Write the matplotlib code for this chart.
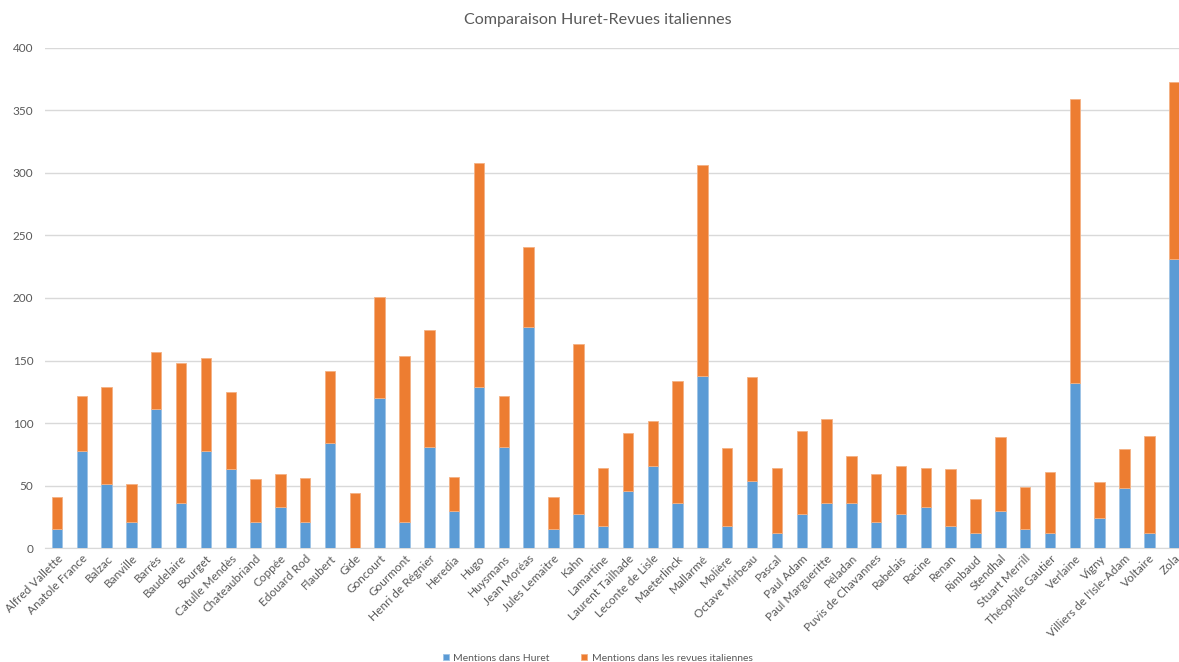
import matplotlib.pyplot as plt
import numpy as np

plt.rcParams['font.family'] = ['Lato', 'DejaVu Sans']

# noms des auteurs
auteurs = ["Alfred Vallette", "Anatole France", "Balzac", "Banville", "Barrès", "Baudelaire",
           "Bourget", "Catulle Mendès", "Chateaubriand", "Coppée", "Edouard Rod", "Flaubert",
           "Gide", "Goncourt", "Gourmont", "Henri de Régnier", "Heredia", "Hugo", "Huysmans",
           "Jean Moréas", "Jules Lemaitre", "Kahn", "Lamartine", "Laurent Tailhade",
           "Leconte de Lisle", "Maeterlinck", "Mallarmé", "Molière", "Octave Mirbeau", "Pascal",
           "Paul Adam", "Paul Margueritte", "Péladan", "Puvis de Chavannes", "Rabelais", "Racine",
           "Renan", "Rimbaud", "Stendhal", "Stuart Merrill", "Théophile Gautier", "Verlaine",
           "Vigny", "Villiers de l'Isle-Adam", "Voltaire", "Zola"]

# mentions dans Huret
huret = [15, 78, 51, 21, 111, 36, 78, 63, 21, 33, 21, 84, 0, 120, 21, 81, 30, 129, 81,
         177, 15, 27, 18, 46, 66, 36, 138, 18, 54, 12, 27, 36, 36, 21, 27, 33, 18, 12, 30,
         15, 12, 132, 24, 48, 12, 231]

# total (Huret + revues)
total = [41, 122, 129, 51, 157, 148, 152, 125, 55, 59, 56, 142, 44, 201, 154, 174, 57, 308,
         122, 241, 41, 163, 64, 92, 102, 134, 306, 80, 137, 64, 94, 103, 74, 59, 66, 64, 63,
         39, 89, 49, 61, 359, 53, 79, 90, 373]

revues = [t - h for t, h in zip(total, huret)]

bleu = '#5B9BD5'
orange = '#ED7D31'
gris = '#595959'

fig = plt.figure(figsize=(11.79, 6.62), dpi=100)
ax = fig.add_axes([0.0378, 0.1722, 0.9686, 0.7553])

x = np.arange(len(auteurs))
ax.bar(x, huret, width=0.42, color=bleu, edgecolor='#9DC3E6', linewidth=0.6,
       label='Mentions dans Huret', zorder=3)
ax.bar(x, revues, width=0.42, bottom=huret, color=orange, edgecolor='#F4B183', linewidth=0.6,
       label='Mentions dans les revues italiennes', zorder=3)

ax.set_xlim(-0.5, len(auteurs) - 0.5)
ax.set_ylim(0, 400)
ax.set_yticks(range(0, 401, 50))
ax.yaxis.grid(True, color='#D9D9D9', linewidth=1, zorder=0)
ax.set_axisbelow(True)
for s in ['top', 'right', 'left']:
    ax.spines[s].set_visible(False)
ax.spines['bottom'].set_color('#D9D9D9')
ax.tick_params(axis='both', length=0, colors=gris, labelsize=8.5)
ax.tick_params(axis='y', pad=8)
ax.set_xticks(x)
ax.set_xticklabels(auteurs, rotation=45, ha='right', rotation_mode='anchor')

fig.suptitle('Comparaison Huret-Revues italiennes', x=0.507, y=0.98, fontsize=11.6,
             color=gris)

leg = fig.legend(loc='lower center', bbox_to_anchor=(0.507, -0.015), ncol=2, frameon=False,
                 fontsize=7.5, handlelength=0.6, handleheight=0.6, columnspacing=3,
                 handletextpad=0.4)
for t in leg.get_texts():
    t.set_color(gris)

plt.savefig('out.png', dpi=100)
